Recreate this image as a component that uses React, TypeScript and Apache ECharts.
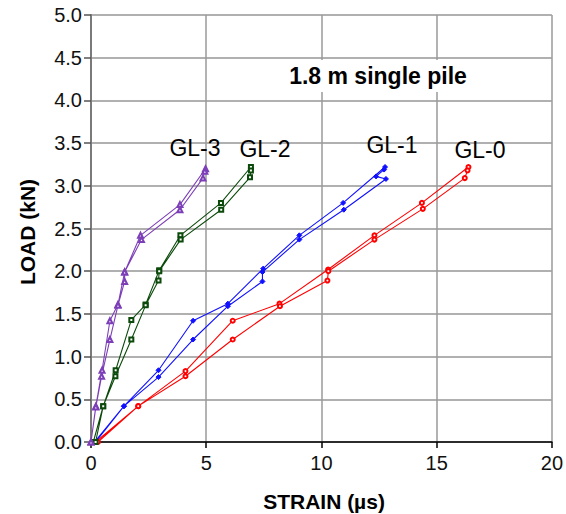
import React, { useEffect, useRef } from "react";
import * as echarts from "echarts";

const xTicks = [0, 5, 10, 15, 20];
const yTicks = [0, 0.5, 1, 1.5, 2, 2.5, 3, 3.5, 4, 4.5, 5];

// GL-0 (red): loading branch then unloading branch, [strain, load]
const gl0 = [
  [0.2, 0], [2.05, 0.42], [4.1, 0.83], [6.15, 1.42], [8.18, 1.62], [10.29, 2.02],
  [12.3, 2.42], [14.36, 2.8], [16.38, 3.22], [16.34, 3.18], [16.22, 3.09],
  [14.4, 2.73], [12.3, 2.37], [10.3, 2.0], [10.26, 1.89], [8.2, 1.59],
  [6.15, 1.2], [4.1, 0.77], [2.05, 0.42], [0.3, 0],
];
// GL-1 (blue)
const gl1 = [
  [0.15, 0], [1.43, 0.42], [2.93, 0.84], [4.43, 1.42], [5.94, 1.62], [7.47, 2.03],
  [9.04, 2.42], [10.94, 2.8], [12.76, 3.22], [12.72, 3.19], [12.37, 3.11],
  [12.8, 3.08], [10.97, 2.72], [9.04, 2.37], [7.44, 1.99], [7.44, 1.88],
  [5.94, 1.59], [4.43, 1.2], [2.93, 0.76], [1.43, 0.42], [0.2, 0],
];
// GL-2 (dark green)
const gl2 = [
  [0.1, 0], [0.53, 0.42], [1.07, 0.84], [1.75, 1.43], [2.37, 1.61], [2.96, 2.01],
  [3.88, 2.42], [5.64, 2.8], [6.94, 3.22], [6.94, 3.18], [6.9, 3.1],
  [5.65, 2.72], [3.89, 2.37], [2.96, 2.0], [2.93, 1.89], [2.37, 1.6],
  [1.75, 1.2], [1.06, 0.77], [0.53, 0.42], [0.2, 0],
];
// GL-3 (purple)
const gl3 = [
  [0, 0], [0.21, 0.42], [0.48, 0.84], [0.82, 1.42], [1.17, 1.61], [1.46, 1.99],
  [2.15, 2.42], [3.86, 2.78], [4.97, 3.2], [4.94, 3.17], [4.86, 3.09],
  [3.86, 2.72], [2.19, 2.37], [1.46, 1.99], [1.46, 1.88], [1.17, 1.6],
  [0.82, 1.2], [0.46, 0.77], [0.21, 0.41], [0, 0],
];

const seriesNames = ["GL-0", "GL-1", "GL-2", "GL-3"];
const title = "1.8 m single pile";
const xName = "STRAIN (µs)";
const yName = "LOAD (kN)";

const FONT = "'Liberation Sans', Arial, sans-serif";

export default function App() {
  const ref = useRef<HTMLDivElement>(null);
  useEffect(() => {
    if (!ref.current) return;
    const chart = echarts.init(ref.current, null, { renderer: "svg" });
    const mk = (name: string, data: number[][], color: string, symbol: string, size: number) => ({
      name,
      type: "line",
      data,
      symbol,
      symbolSize: size,
      showSymbol: true,
      lineStyle: { color, width: 1.1 },
      itemStyle: { color, borderColor: color, borderWidth: 1 },
      z: 3,
    });
    const label = (text: string, x: number, y: number) => ({
      type: "text", x, y, z: 11,
      style: { text, font: `23px ${FONT}`, fill: "#000", align: "center", verticalAlign: "middle" },
    });
    chart.setOption({
      animation: false,
      backgroundColor: "#ffffff",
      grid: { left: 91, right: 9, top: 15, bottom: 72 },
      xAxis: {
        type: "value",
        min: xTicks[0],
        max: xTicks[xTicks.length - 1],
        interval: 5,
        axisLine: { show: true, onZero: false, lineStyle: { color: "#000", width: 1.5 } },
        axisTick: { show: true, length: 6, lineStyle: { color: "#000", width: 1.5 } },
        axisLabel: { fontFamily: FONT, fontSize: 20, color: "#111", margin: 11 },
        splitLine: { show: true, lineStyle: { color: "#9a9a9a", width: 1.5 } },
      },
      yAxis: {
        type: "value",
        min: yTicks[0],
        max: yTicks[yTicks.length - 1],
        interval: 0.5,
        axisLine: { show: true, onZero: false, lineStyle: { color: "#7a7a7a", width: 2 } },
        axisTick: { show: true, length: 7, lineStyle: { color: "#555", width: 1.5 } },
        axisLabel: {
          fontFamily: FONT,
          fontSize: 20,
          color: "#111",
          margin: 9,
          formatter: (v: number) => v.toFixed(1),
        },
        splitLine: { show: true, lineStyle: { color: "#b0b0b0", width: 2 } },
      },
      series: [
        mk(seriesNames[0], gl0, "#ff0000", "emptyCircle", 4),
        mk(seriesNames[1], gl1, "#1010ff", "diamond", 5),
        mk(seriesNames[2], gl2, "#0b4a0b", "emptyRect", 4),
        mk(seriesNames[3], gl3, "#7d3fb8", "emptyTriangle", 5),
      ],
      graphic: [
        { type: "rect", shape: { x: 275, y: 60, width: 208, height: 32 }, style: { fill: "#fff" }, z: 10 },
        {
          type: "text", x: 378, y: 76, z: 11,
          style: { text: title, font: `bold 23px ${FONT}`, fill: "#000", align: "center", verticalAlign: "middle" },
        },
        label(seriesNames[3], 195, 148),
        label(seriesNames[2], 265, 149),
        label(seriesNames[1], 392, 145),
        label(seriesNames[0], 480, 150),
        {
          type: "text", x: 324, y: 501, z: 11,
          style: { text: xName, font: `bold 21px ${FONT}`, fill: "#000", align: "center", verticalAlign: "middle" },
        },
        {
          type: "text", x: 27, y: 232, rotation: Math.PI / 2, z: 11,
          style: { text: yName, font: `bold 21px ${FONT}`, fill: "#000", align: "center", verticalAlign: "middle" },
        },
      ],
    });
    return () => chart.dispose();
  }, []);
  return (
    <div
      ref={ref}
      style={{ position: "fixed", left: 0, top: 0, width: 566, height: 514, background: "#fff" }}
    />
  );
}
